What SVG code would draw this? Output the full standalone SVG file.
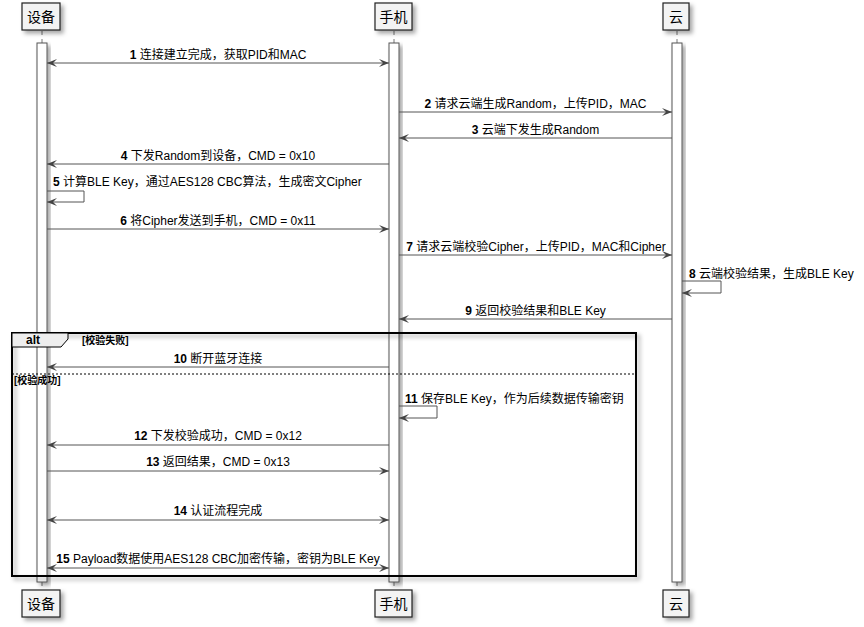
<svg xmlns="http://www.w3.org/2000/svg" width="864" height="627" viewBox="0 0 864 627">
<style>
text{font-family:"Liberation Sans","Noto Sans CJK SC",sans-serif;fill:#000}
.msg{font-size:12px}
.mid{text-anchor:middle}
.b{font-weight:bold}
.pname{font-size:14px;text-anchor:middle}
.pbox{fill:#F3F3F3;stroke:#222;stroke-width:1.2}
.bar{fill:#FFFFFF;stroke:#555;stroke-width:1}
.life{stroke:#777;stroke-width:1;stroke-dasharray:4,4}
.arr{fill:none;stroke:#555;stroke-width:1}
.guard{font-size:10px;font-weight:bold}
</style>
<defs>
<filter id="sh" x="-20%" y="-20%" width="160%" height="160%">
<feDropShadow dx="3" dy="3" stdDeviation="2" flood-color="#000" flood-opacity="0.35"/>
</filter>
<marker id="ah" markerUnits="userSpaceOnUse" markerWidth="12" markerHeight="10" refX="10" refY="4" orient="auto-start-reverse">
<path d="M0,0 L10,4 L0,8 L4,4 Z" fill="#444"/>
</marker>
</defs>

<g id="lifelines">
<line class="life" x1="42" y1="31" x2="42" y2="43"/>
<line class="life" x1="394" y1="31" x2="394" y2="43"/>
<line class="life" x1="677" y1="31" x2="677" y2="43"/>
<line class="life" x1="42" y1="582" x2="42" y2="590"/>
<line class="life" x1="394" y1="582" x2="394" y2="590"/>
<line class="life" x1="677" y1="582" x2="677" y2="590"/>
</g>

<g id="node-device">
<rect class="pbox" x="22" y="3" width="38" height="27" filter="url(#sh)"/>
<text class="pname" x="41" y="22">设备</text>
<rect class="bar" x="37" y="43" width="10" height="539" filter="url(#sh)"/>
<rect class="pbox" x="22" y="590" width="38" height="27" filter="url(#sh)"/>
<text class="pname" x="41" y="609">设备</text>
</g>

<g id="node-phone">
<rect class="pbox" x="375" y="3" width="37" height="27" filter="url(#sh)"/>
<text class="pname" x="393.5" y="22">手机</text>
<rect class="bar" x="389" y="43" width="10" height="539" filter="url(#sh)"/>
<rect class="pbox" x="375" y="590" width="37" height="27" filter="url(#sh)"/>
<text class="pname" x="393.5" y="609">手机</text>
</g>

<g id="node-cloud">
<rect class="pbox" x="663" y="3" width="26" height="27" filter="url(#sh)"/>
<text class="pname" x="676" y="22">云</text>
<rect class="bar" x="672" y="43" width="10" height="539" filter="url(#sh)"/>
<rect class="pbox" x="663" y="590" width="26" height="27" filter="url(#sh)"/>
<text class="pname" x="676" y="609">云</text>
</g>

<g id="alt-frame">
<rect x="12" y="333" width="624" height="243" fill="none" stroke="#000" stroke-width="2" filter="url(#sh)"/>
<path d="M12,333 H68 V339 L61,347 H12 Z" fill="#EEEEEE" stroke="#000" stroke-width="1"/>
<text x="26" y="344" font-size="12" class="b">alt</text>
<text class="guard" x="82" y="344">[校验失败]</text>
<line x1="12" y1="374" x2="636" y2="374" stroke="#000" stroke-width="1" stroke-dasharray="2,2"/>
<text class="guard" x="14" y="384">[校验成功]</text>
</g>

<g id="connectors">
<line class="arr" x1="47" y1="63" x2="389" y2="63" marker-start="url(#ah)" marker-end="url(#ah)"/>
<line class="arr" x1="399" y1="112" x2="672" y2="112" marker-end="url(#ah)"/>
<line class="arr" x1="672" y1="138" x2="399" y2="138" marker-end="url(#ah)"/>
<line class="arr" x1="389" y1="164" x2="47" y2="164" marker-end="url(#ah)"/>
<path class="arr" d="M47,191 H84 V202 H47" marker-end="url(#ah)"/>
<line class="arr" x1="47" y1="229" x2="389" y2="229" marker-end="url(#ah)"/>
<line class="arr" x1="399" y1="255" x2="672" y2="255" marker-end="url(#ah)"/>
<path class="arr" d="M682,281 H721 V293 H682" marker-end="url(#ah)"/>
<line class="arr" x1="672" y1="319" x2="399" y2="319" marker-end="url(#ah)"/>
<line class="arr" x1="389" y1="367" x2="47" y2="367" marker-end="url(#ah)"/>
<path class="arr" d="M399,406 H437 V418 H399" marker-end="url(#ah)"/>
<line class="arr" x1="389" y1="445" x2="47" y2="445" marker-end="url(#ah)"/>
<line class="arr" x1="47" y1="471" x2="389" y2="471" marker-end="url(#ah)"/>
<line class="arr" x1="47" y1="520" x2="389" y2="520" marker-start="url(#ah)" marker-end="url(#ah)"/>
<line class="arr" x1="47" y1="568" x2="389" y2="568" marker-start="url(#ah)" marker-end="url(#ah)"/>
</g>

<g id="labels">
<text class="msg mid" x="218" y="59"><tspan class="b">1</tspan> 连接建立完成，获取PID和MAC</text>
<text class="msg mid" x="535.5" y="108"><tspan class="b">2</tspan> 请求云端生成Random，上传PID，MAC</text>
<text class="msg mid" x="535.5" y="134"><tspan class="b">3</tspan> 云端下发生成Random</text>
<text class="msg mid" x="218" y="160"><tspan class="b">4</tspan> 下发Random到设备，CMD = 0x10</text>
<text class="msg" x="53" y="186"><tspan class="b">5</tspan> 计算BLE Key，通过AES128 CBC算法，生成密文Cipher</text>
<text class="msg mid" x="218" y="225"><tspan class="b">6</tspan> 将Cipher发送到手机，CMD = 0x11</text>
<text class="msg mid" x="536" y="251"><tspan class="b">7</tspan> 请求云端校验Cipher，上传PID，MAC和Cipher</text>
<text class="msg" x="689" y="278"><tspan class="b">8</tspan> 云端校验结果，生成BLE Key</text>
<text class="msg mid" x="535.5" y="315"><tspan class="b">9</tspan> 返回校验结果和BLE Key</text>
<text class="msg mid" x="218" y="363"><tspan class="b">10</tspan> 断开蓝牙连接</text>
<text class="msg" x="405" y="403"><tspan class="b">11</tspan> 保存BLE Key，作为后续数据传输密钥</text>
<text class="msg mid" x="218" y="440"><tspan class="b">12</tspan> 下发校验成功，CMD = 0x12</text>
<text class="msg mid" x="218" y="466"><tspan class="b">13</tspan> 返回结果，CMD = 0x13</text>
<text class="msg mid" x="218" y="515"><tspan class="b">14</tspan> 认证流程完成</text>
<text class="msg mid" x="218" y="563"><tspan class="b">15</tspan> Payload数据使用AES128 CBC加密传输，密钥为BLE Key</text>
</g>
</svg>
